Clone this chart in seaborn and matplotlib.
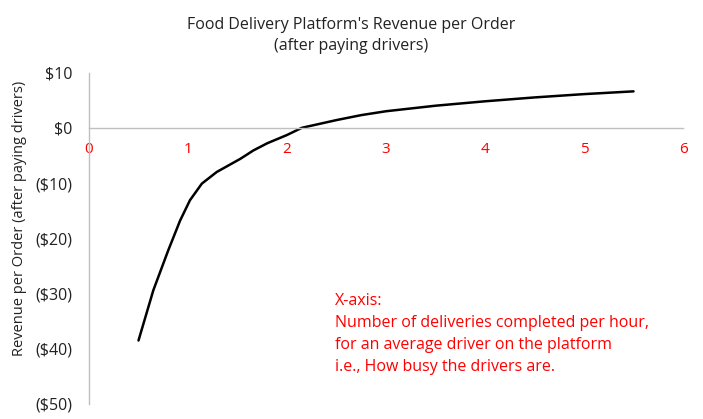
import numpy as np
import pandas as pd
import seaborn as sns
import matplotlib.pyplot as plt
from matplotlib.ticker import FuncFormatter

# 每小时完成的配送单数 与 平台每单收入(支付司机后)
deliveries_per_hour = [0.5, 0.65, 0.8, 0.92, 1.02, 1.14, 1.29, 1.4, 1.53, 1.66, 1.8,
                       2.0, 2.15, 2.35, 2.5, 2.75, 3.0, 3.5, 4.0, 4.5, 5.0, 5.5]
revenue_per_order = [-38.5, -29.4, -22.2, -16.8, -13.1, -10.1, -8.0, -6.9, -5.6, -4.1, -2.8,
                     -1.3, 0.0, 0.8, 1.4, 2.3, 3.0, 4.0, 4.8, 5.5, 6.1, 6.6]
x_ticks = [0, 1, 2, 3, 4, 5, 6]
y_ticks = [10, 0, -10, -20, -30, -40, -50]

title_text = "Food Delivery Platform's Revenue per Order\n(after paying drivers)"
y_label = "Revenue per Order (after paying drivers)"
note_text = ("X-axis:\nNumber of deliveries completed per hour,\n"
             "for an average driver on the platform\ni.e., How busy the drivers are.")

df = pd.DataFrame({"x": deliveries_per_hour, "y": revenue_per_order})

sns.set_style("white")
plt.rcParams['font.family'] = ['Open Sans', 'DejaVu Sans']

fig = plt.figure(figsize=(7.03, 4.19), dpi=100)
ax = fig.add_axes([0.1266, 0.0358, 0.845, 0.791])

sns.lineplot(data=df, x="x", y="y", ax=ax, color="black", linewidth=1.8)
ax.lines[0].set_solid_joinstyle("round")

ax.set_xlim(0, 6)
ax.set_ylim(-50, 10)
ax.set_xticks(x_ticks)
ax.set_yticks(y_ticks)

def money(v, pos):
    v = int(round(v))
    return f"${v}" if v >= 0 else f"(${-v})"

ax.yaxis.set_major_formatter(FuncFormatter(money))

# 坐标轴: x轴放在 y=0 处
for s in ["top", "right"]:
    ax.spines[s].set_visible(False)
ax.spines["bottom"].set_position(("data", 0))
ax.spines["bottom"].set_color("#bfbfbf")
ax.spines["left"].set_color("#bfbfbf")
ax.spines["bottom"].set_linewidth(1)
ax.spines["left"].set_linewidth(1)

ax.tick_params(axis="x", length=0, pad=10, labelsize=11, labelcolor="red")
ax.tick_params(axis="y", length=0, pad=12, labelsize=11.5, labelcolor="#222222")
ax.set_xlabel("")
ax.set_ylabel("")

fig.text(0.5, 0.915, title_text, ha="center", va="center", fontsize=11.5,
         linespacing=1.45, color="#222222")
fig.text(0.028, 0.478, y_label, rotation=90, ha="center", va="center",
         fontsize=10.5, color="#222222")
fig.text(0.476, 0.203, note_text, ha="left", va="center", fontsize=11.5,
         color="red", linespacing=1.5)

fig.savefig("out.png", dpi=100)
